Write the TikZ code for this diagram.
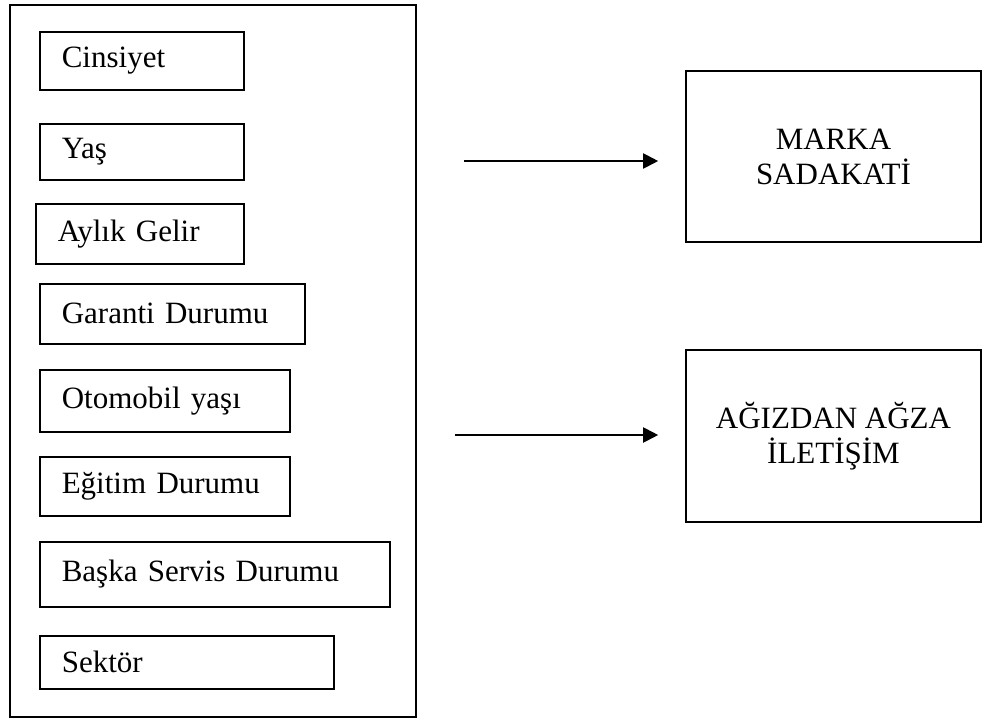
\documentclass[tikz,border=0pt]{standalone}
\usepackage{fontspec}
\setmainfont{Liberation Serif}
\usetikzlibrary{arrows.meta, positioning}
\tikzset{
  font=\fontsize{15.5}{17.5}\selectfont,
  factor/.style={draw=black, line width=0.8pt, anchor=north west,
    align=left, inner xsep=11pt, inner ysep=0pt},
  outcome/.style={draw=black, line width=0.8pt, align=center,
    minimum width=147.5pt, inner sep=0pt},
  frame/.style={draw=black, line width=0.8pt, inner sep=0pt},
  flow/.style={-{Triangle[length=7.5pt, width=7.5pt]}, line width=1pt,
    draw=black, shorten >=13.5pt},
}
\begin{document}
\begin{tikzpicture}[x=0.5pt, y=-0.5pt]
  \useasboundingbox (0,0) rectangle (982,718);

  % ----------------------------------------------------------------
  % Demographic factors (left frame)
  % ----------------------------------------------------------------
  \node[frame, minimum width=203pt, minimum height=356pt] (demo) at (213,361) {};

  \node[factor, text width=80pt,  minimum height=29pt]   (gender)   at (39,31)  {Cinsiyet};
  \node[factor, text width=80pt,  minimum height=28pt]   (age)      at (39,123) {Yaş};
  \node[factor, text width=82pt,  minimum height=30pt]   (income)   at (35,203) {Aylık Gelir};
  \node[factor, text width=110.5pt, minimum height=30pt] (warranty) at (39,283) {Garanti Durumu};
  \node[factor, text width=103pt, minimum height=31pt]   (carage)   at (39,369) {Otomobil yaşı};
  \node[factor, text width=103pt, minimum height=29.5pt] (edu)      at (39,456) {Eğitim Durumu};
  \node[factor, text width=153pt, minimum height=32.5pt] (service)  at (39,541) {Başka Servis Durumu};
  \node[factor, text width=125pt, minimum height=26.5pt] (sector)   at (39,635) {Sektör};

  % ----------------------------------------------------------------
  % Outcomes (right)
  % ----------------------------------------------------------------
  \node[outcome, minimum height=85.5pt] (loyalty) at (833.5,156.5) {MARKA\\ SADAKATİ};
  \node[outcome, minimum height=86pt]   (wom)     at (833.5,436)   {AĞIZDAN AĞZA\\ İLETİŞİM};

  % ----------------------------------------------------------------
  % Arrows
  % ----------------------------------------------------------------
  \coordinate (src1) at (464,161);
  \coordinate (src2) at (455,435);
  \draw[flow] (src1) -- (src1 -| loyalty.west);
  \draw[flow] (src2) -- (src2 -| wom.west);

\end{tikzpicture}
\end{document}
